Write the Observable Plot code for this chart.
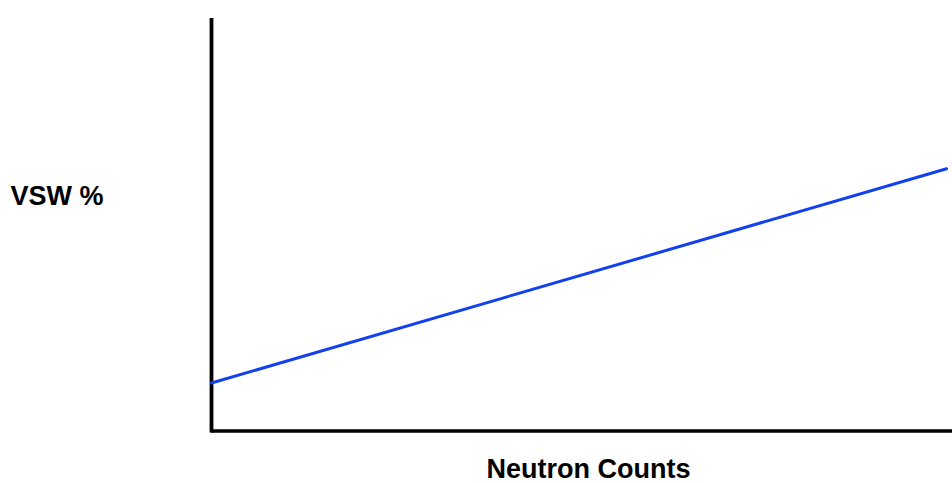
<!DOCTYPE html>
<html>
<head>
<meta charset="utf-8">
<script src="https://cdn.jsdelivr.net/npm/d3@7"></script>
<script src="https://cdn.jsdelivr.net/npm/@observablehq/plot@0.6"></script>
<style>
  html, body { margin: 0; padding: 0; background: #ffffff; }
  #chart { width: 952px; height: 483px; }
</style>
</head>
<body>
<div id="chart"></div>
<script>
// Relative values (no tick values are shown)
const neutronCounts = [0, 99.2];
const vswPercent = [11.7, 63.9];
const xLabel = "Neutron Counts";
const yLabel = "VSW %";

const lineData = neutronCounts.map((x, i) => ({x, y: vswPercent[i]}));

const chart = Plot.plot({
  width: 952,
  height: 483,
  marginLeft: 211,
  marginRight: 0,
  marginTop: 20,
  marginBottom: 52.5,
  x: {domain: [0, 100], axis: null},
  y: {domain: [0, 100], axis: null},
  style: {background: "#ffffff", fontFamily: "'Liberation Sans', Arial, sans-serif"},
  marks: [
    Plot.ruleY([0], {stroke: "#000000", strokeWidth: 3.5}),
    Plot.ruleX([0], {y1: 0, y2: 100, stroke: "#000000", strokeWidth: 3.8, strokeLinecap: "square"}),
    Plot.line(lineData, {x: "x", y: "y", stroke: "#1040f0", strokeWidth: 3}),
    Plot.text([yLabel], {frameAnchor: "left", dx: -201, dy: -29, textAnchor: "start",
      fontSize: 27, fontWeight: "bold", fill: "#000000"}),
    Plot.text([xLabel], {frameAnchor: "bottom", dx: 6.5, dy: 46.5, textAnchor: "middle",
      fontSize: 27, fontWeight: "bold", fill: "#000000"})
  ]
});

document.getElementById("chart").appendChild(chart);
</script>
</body>
</html>
